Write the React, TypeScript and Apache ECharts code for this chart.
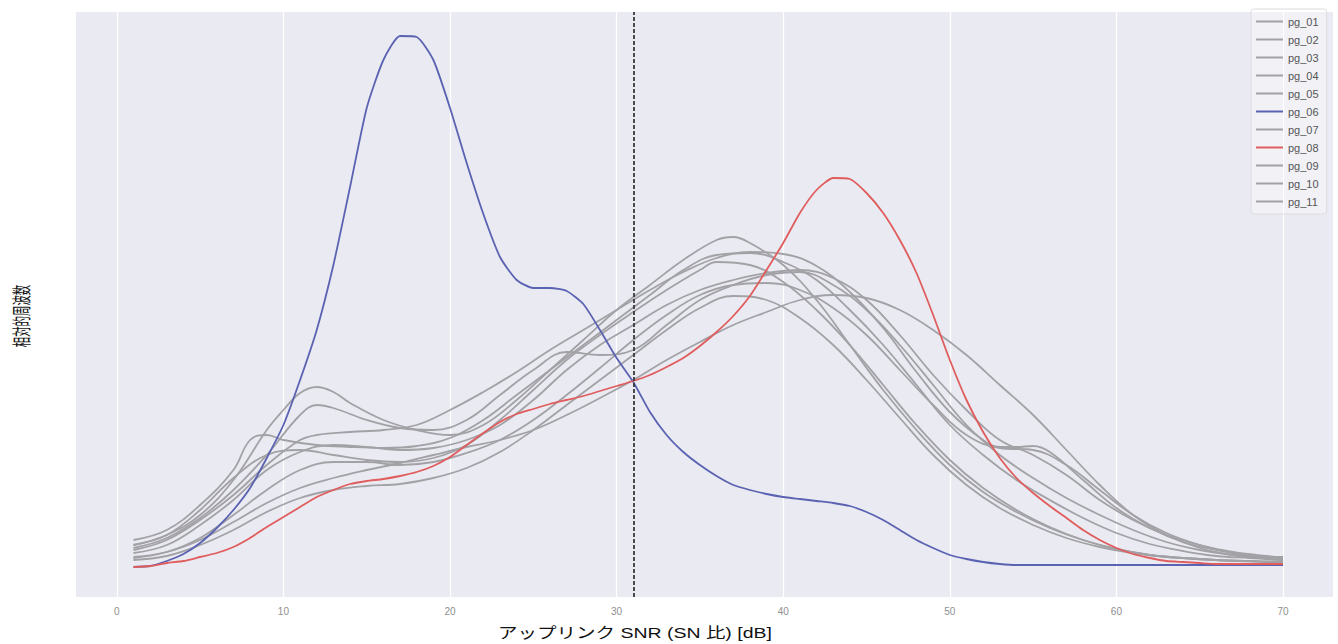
import React, { useEffect, useRef } from "react";
import * as echarts from "echarts";

// SNR axis ticks and the reference threshold (dB)
const snrTicks = [0, 10, 20, 30, 40, 50, 60, 70];
const thresholdDb = 31;

const seriesNames = [
  "pg_01", "pg_02", "pg_03", "pg_04", "pg_05", "pg_06",
  "pg_07", "pg_08", "pg_09", "pg_10", "pg_11",
];

// Relative frequency (arbitrary units) per SNR value [dB, freq]
const pg01: [number, number][] = [
  [1, 30], [3, 40], [5, 65], [7, 100], [8, 130], [9, 135], [10, 130], [12, 125], [14, 123], [16, 122],
  [18, 124], [20, 132], [22, 150], [24, 175], [26, 200], [28, 225], [30, 250], [32, 275], [34, 300],
  [36, 315], [38, 317], [40, 308], [42, 290], [44, 260], [46, 225], [48, 185], [50, 145], [52, 115],
  [54, 90], [56, 70], [58, 52], [60, 37], [62, 26], [64, 19], [66, 14], [68, 12], [70, 10],
];
const pg02: [number, number][] = [
  [1, 25], [3, 35], [5, 55], [7, 90], [9, 140], [10, 160], [11, 177], [12, 183], [13, 178], [14, 167],
  [16, 150], [18, 140], [20, 135], [22, 145], [24, 170], [26, 200], [28, 230], [30, 260], [32, 285],
  [34, 310], [36, 330], [37, 333], [38, 327], [40, 305], [42, 270], [44, 225], [46, 180], [48, 140],
  [50, 105], [52, 78], [54, 58], [56, 42], [58, 30], [60, 21], [62, 15], [64, 12], [66, 10], [68, 9], [70, 8],
];
const pg03: [number, number][] = [
  [1, 20], [3, 30], [5, 50], [7, 75], [9, 105], [11, 130], [12, 135], [14, 138], [16, 140], [18, 145],
  [20, 160], [22, 178], [24, 198], [26, 220], [28, 240], [30, 260], [32, 280], [34, 298], [36, 312],
  [38, 318], [40, 316], [42, 304], [44, 278], [46, 242], [48, 198], [50, 158], [52, 130], [53, 123],
  [54, 123], [55, 124], [56, 118], [58, 90], [60, 62], [62, 42], [64, 28], [66, 20], [68, 15], [70, 11],
];
const pg04: [number, number][] = [
  [1, 17], [3, 25], [5, 45], [7, 70], [9, 100], [11, 118], [13, 125], [15, 123], [17, 120], [19, 122],
  [21, 130], [23, 145], [25, 170], [27, 200], [29, 225], [31, 245], [33, 265], [35, 280], [37, 290],
  [39, 297], [41, 300], [43, 292], [45, 270], [47, 235], [49, 195], [51, 160], [53, 130], [55, 115],
  [57, 95], [59, 70], [61, 50], [63, 35], [65, 25], [67, 18], [69, 14], [70, 13],
];
const pg05: [number, number][] = [
  [1, 13], [3, 18], [5, 30], [7, 48], [9, 67], [11, 82], [13, 92], [15, 100], [17, 107], [19, 115],
  [21, 123], [23, 130], [25, 140], [27, 155], [29, 172], [31, 190], [33, 210], [35, 228], [37, 245],
  [39, 258], [41, 270], [43, 275], [45, 272], [47, 260], [49, 240], [51, 215], [53, 185], [55, 155],
  [57, 120], [59, 85], [61, 55], [63, 35], [65, 22], [67, 15], [69, 11], [70, 10],
];
const pg06: [number, number][] = [
  [1, 3], [2, 4], [3, 9], [4, 16], [5, 27], [6, 42], [7, 60], [8, 82], [9, 112], [10, 145],
  [11, 190], [12, 240], [13, 305], [14, 383], [15, 462], [16, 510], [17, 534], [18, 533], [19, 510],
  [20, 462], [21, 407], [22, 356], [23, 313], [24, 290], [25, 282], [26, 282], [27, 279], [28, 266],
  [29, 240], [30, 212], [31, 188], [32, 158], [33, 135], [34, 118], [35, 105], [36, 94], [37, 85],
  [38, 80], [39, 76], [40, 73], [41, 71], [42, 69], [43, 67], [44, 64], [45, 58], [46, 50], [47, 40],
  [48, 30], [49, 22], [50, 15], [51, 11], [52, 8], [53, 6], [54, 5], [56, 5], [58, 5], [60, 5],
  [62, 5], [64, 5], [66, 5], [68, 5], [70, 5],
];
const pg07: [number, number][] = [
  [1, 12], [3, 18], [5, 32], [7, 55], [9, 80], [11, 100], [13, 108], [15, 108], [17, 105], [19, 108],
  [21, 117], [23, 130], [25, 150], [27, 175], [29, 202], [31, 230], [33, 255], [35, 275], [37, 285],
  [39, 287], [41, 280], [43, 262], [45, 235], [47, 200], [49, 165], [51, 135], [53, 122], [55, 120],
  [57, 105], [59, 80], [61, 55], [63, 37], [65, 25], [67, 17], [69, 13], [70, 12],
];
const pg08: [number, number][] = [
  [1, 3], [2, 4], [3, 7], [4, 9], [5, 13], [6, 17], [7, 23], [8, 32], [9, 43], [10, 53],
  [11, 63], [12, 73], [13, 80], [14, 86], [15, 89], [16, 91], [17, 94], [18, 98], [19, 104], [20, 113],
  [21, 125], [22, 137], [23, 148], [24, 156], [25, 161], [26, 166], [27, 170], [28, 174], [29, 179],
  [30, 184], [31, 189], [32, 195], [33, 203], [34, 212], [35, 224], [36, 238], [37, 254], [38, 274],
  [39, 300], [40, 327], [41, 357], [42, 380], [43, 392], [44, 391], [45, 377], [46, 357], [47, 330],
  [48, 297], [49, 255], [50, 210], [51, 170], [52, 138], [53, 112], [54, 92], [55, 77], [56, 64],
  [57, 52], [58, 40], [59, 30], [60, 22], [61, 16], [62, 12], [63, 9], [64, 8], [65, 7], [66, 6],
  [68, 6], [70, 6],
];
const pg09: [number, number][] = [
  [1, 10], [3, 14], [5, 25], [7, 40], [9, 58], [11, 72], [13, 80], [15, 84], [17, 86], [19, 92],
  [21, 102], [23, 118], [25, 140], [27, 165], [29, 190], [31, 215], [33, 240], [35, 262], [37, 274],
  [39, 270], [41, 252], [43, 225], [45, 190], [47, 152], [49, 115], [51, 85], [53, 62], [55, 45],
  [57, 32], [59, 23], [61, 17], [63, 13], [65, 11], [67, 9], [69, 8], [70, 8],
];
const pg10: [number, number][] = [
  [1, 25], [3, 35], [5, 60], [7, 92], [9, 115], [11, 120], [13, 115], [15, 110], [17, 108], [19, 112],
  [21, 125], [23, 150], [25, 180], [27, 210], [29, 235], [31, 258], [33, 280], [35, 300], [36, 308],
  [38, 305], [40, 288], [42, 260], [44, 225], [46, 185], [48, 145], [50, 110], [52, 82], [54, 60],
  [56, 43], [58, 30], [60, 21], [62, 15], [64, 12], [66, 10], [68, 9], [70, 8],
];
const pg11: [number, number][] = [
  [1, 22], [3, 32], [5, 52], [7, 80], [9, 115], [11, 155], [12, 165], [13, 162], [15, 150], [17, 142],
  [19, 140], [21, 150], [23, 175], [25, 200], [27, 218], [29, 215], [31, 220], [33, 245], [35, 270],
  [37, 285], [39, 295], [41, 298], [43, 285], [45, 260], [47, 225], [49, 185], [51, 145], [53, 115],
  [55, 92], [57, 72], [59, 55], [61, 40], [63, 28], [65, 20], [67, 15], [69, 12], [70, 11],
];

const seriesData = [pg01, pg02, pg03, pg04, pg05, pg06, pg07, pg08, pg09, pg10, pg11];

const GRAY = "#a2a2a6";
const BLUE = "#5a62b2";
const RED = "#e05d5d";

const colorFor = (name: string) =>
  name === "pg_06" ? BLUE : name === "pg_08" ? RED : GRAY;

export default function App() {
  const ref = useRef<HTMLDivElement>(null);

  useEffect(() => {
    document.body.style.margin = "0";
    if (!ref.current) return;
    const chart = echarts.init(ref.current, null, { renderer: "svg" });

    const series: any[] = seriesNames.map((name, i) => {
      const highlighted = name === "pg_06" || name === "pg_08";
      return {
        name,
        type: "line",
        data: seriesData[i],
        showSymbol: false,
        smooth: highlighted ? 0.2 : 0.4,
        color: colorFor(name),
        lineStyle: { width: 1.8, color: colorFor(name) },
        z: highlighted ? 3 : 2,
        silent: true,
      };
    });

    series[0].markLine = {
      silent: true,
      symbol: "none",
      label: { show: false },
      lineStyle: { color: "#3a3a3a", type: [4, 2], width: 1.8 },
      data: [{ xAxis: thresholdDb }],
    };

    chart.setOption({
      animation: false,
      backgroundColor: "#ffffff",
      grid: {
        left: 76,
        right: 5,
        top: 12,
        bottom: 47,
        show: true,
        backgroundColor: "#eaeaf2",
        borderWidth: 0,
      },
      xAxis: {
        type: "value",
        min: -2.45,
        max: 73,
        axisLine: { show: false },
        axisTick: { show: false, customValues: snrTicks },
        axisLabel: {
          customValues: snrTicks,
          color: "#8f8f8f",
          fontSize: 10,
          margin: 9,
          fontFamily: "'Liberation Sans', sans-serif",
        },
        splitLine: { show: true, lineStyle: { color: "#ffffff", width: 1.2 } },
      },
      yAxis: {
        type: "value",
        min: -27,
        max: 558,
        show: false,
      },
      legend: {
        data: seriesNames,
        orient: "vertical",
        left: 1251,
        top: 9,
        icon: "rect",
        itemWidth: 27,
        itemHeight: 2,
        itemGap: 5,
        padding: [6, 8, 6, 5],
        backgroundColor: "rgba(255,255,255,0.35)",
        borderColor: "#dcdce2",
        borderWidth: 1,
        borderRadius: 3,
        textStyle: {
          color: "#555555",
          fontSize: 11,
          lineHeight: 13,
          fontFamily: "'Liberation Sans', sans-serif",
        },
      },
      graphic: [
        {
          type: "text",
          x: 635,
          y: 633,
          scaleX: 1.3,
          style: {
            text: "アップリンク SNR (SN 比) [dB]",
            fill: "#111111",
            fontSize: 15,
            fontFamily: "'Liberation Sans', 'Noto Sans CJK JP', sans-serif",
            align: "center",
            verticalAlign: "middle",
          },
        },
        {
          type: "text",
          x: 20,
          y: 316,
          rotation: Math.PI / 2,
          scaleX: 0.8,
          scaleY: 1.5,
          style: {
            text: "相対的周波数",
            fill: "#111111",
            fontSize: 13,
            fontFamily: "'Noto Sans CJK JP', sans-serif",
            align: "center",
            verticalAlign: "middle",
          },
        },
      ],
      series,
    });

    return () => chart.dispose();
  }, []);

  return <div ref={ref} style={{ width: 1338, height: 644 }} />;
}
